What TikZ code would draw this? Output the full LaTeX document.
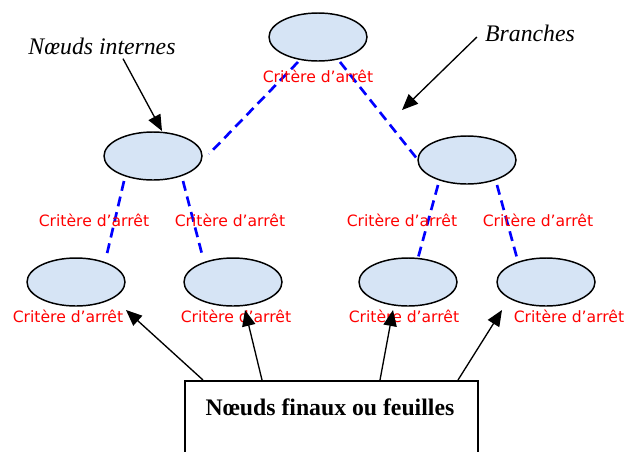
\documentclass[tikz,border=0pt]{standalone}
\usepackage{fontspec}
\setmainfont{Liberation Serif}
\newfontfamily\labfont{DejaVu Sans}
\usetikzlibrary{shapes.geometric,arrows.meta,calc}
\definecolor{ellfill}{RGB}{214,228,245}
\tikzset{
  leaf/.style={ellipse,draw=black,line width=1.1pt,fill=ellfill,inner sep=0pt,minimum width=73.5pt,minimum height=36pt},
  crit/.style={text=red,font=\labfont\fontsize{11.7}{13}\selectfont,inner sep=0pt},
  branch/.style={draw=blue,line width=2pt,dash pattern=on 7.5pt off 4.5pt},
  pointer/.style={draw=black,line width=1pt,-{Triangle[length=12pt,width=10pt]}},
  callout/.style={font=\itshape\fontsize{17.8}{20}\selectfont,inner sep=0pt}
}
\begin{document}
\begin{tikzpicture}[x=0.75pt,y=-0.75pt]
\useasboundingbox (0,0) rectangle (627,451);
% ellipses
\node[leaf] (r) at (318,37) {};
\node[leaf] (m1) at (153,156) {};
\node[leaf] (m2) at (467,160) {};
\node[leaf] (l1) at (76,282) {};
\node[leaf] (l2) at (233,282) {};
\node[leaf] (l3) at (408,282) {};
\node[leaf] (l4) at (546,282) {};
% branches
\draw[branch] ($(r.center)+(-20,25)$) -- ($(m1.center)+(56,-2)$);
\draw[branch] ($(r.center)+(22,25)$) -- ($(m2.center)+(-49,0)$);
\draw[branch] ($(m1.center)+(-29,25)$) -- ($(l1.center)+(30,-24)$);
\draw[branch] ($(m1.center)+(30,25)$) -- ($(l2.center)+(-30,-24)$);
\draw[branch] ($(m2.center)+(-29,25)$) -- ($(l3.center)+(10,-24)$);
\draw[branch] ($(m2.center)+(30,25)$) -- ($(l4.center)+(-29,-24)$);
% labels
\node[crit] (cr) at (318,76) {Critère d’arrêt};
\node[crit] (c1) at (94,220) {Critère d’arrêt};
\node[crit] (c2) at (230,220) {Critère d’arrêt};
\node[crit] (c3) at (402,220) {Critère d’arrêt};
\node[crit] (c4) at (538,220) {Critère d’arrêt};
\node[crit] (c5) at (68,316) {Critère d’arrêt};
\node[crit] (c6) at (236,316) {Critère d’arrêt};
\node[crit] (c7) at (404,316) {Critère d’arrêt};
\node[crit] (c8) at (569,316) {Critère d’arrêt};
% callouts
\node[callout] (ni) at (102,46) {Nœuds internes};
\coordinate (niend) at (162,131);
\draw[pointer] ($(ni.south)+(21,4)$) -- (niend);
\node[callout] (br) at (530,33) {Branches};
\coordinate (brend) at (402,110);
\draw[pointer] ($(br.west)+(-8,4)$) -- (brend);
% box
\node[draw=black,line width=1.2pt,minimum width=219.75pt,minimum height=60pt,anchor=north west,inner sep=0pt] (box) at (184,380) {};
\node[font=\bfseries\fontsize{17.8}{20}\selectfont,inner sep=0pt] (boxt) at (330,407) {Nœuds finaux ou feuilles};
\coordinate (a1) at (126,310);
\coordinate (a2) at (245,310);
\coordinate (a3) at (393,310);
\coordinate (a4) at (502,310);
\draw[pointer] ($(box.north west)+(19,0)$) -- (a1);
\draw[pointer] ($(box.north west)+(78,0)$) -- (a2);
\draw[pointer] ($(box.north west)+(196,0)$) -- (a3);
\draw[pointer] ($(box.north west)+(274,0)$) -- (a4);
\end{tikzpicture}
\end{document}
